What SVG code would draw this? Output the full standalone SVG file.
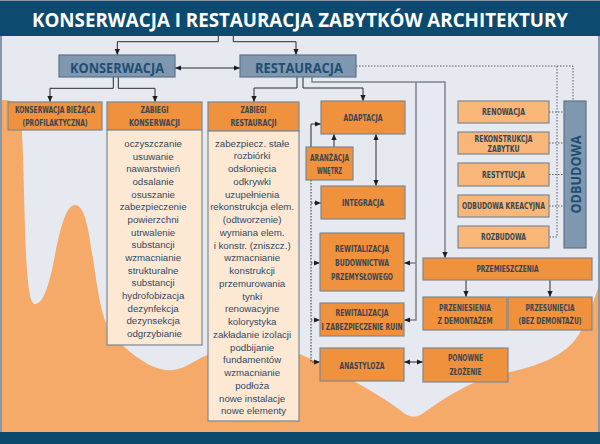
<svg xmlns="http://www.w3.org/2000/svg" width="600" height="444" viewBox="0 0 600 444">
<defs>
<style>
.ob{fill:#ef913d;stroke:#7e8890;stroke-width:1.2}
.lb{fill:#f8b679;stroke:#7e8890;stroke-width:1.2}
.pb{fill:#fde8d4;stroke:#7e8890;stroke-width:1.2}
.bb{fill:#8097b0;stroke:#5f7389;stroke-width:1.2}
.t{font-family:"Liberation Sans Narrow","DejaVu Sans Condensed","Liberation Sans",Arial,sans-serif;font-weight:700;font-size:8.6px;fill:#3a4652;text-anchor:middle}
.bt{font-family:"Open Sans","Liberation Sans",Arial,sans-serif;font-weight:700;font-size:14px;fill:#1d4e73;text-anchor:middle}
.li{font-family:"Liberation Sans",Arial,sans-serif;font-size:9.7px;fill:#2f4a62;text-anchor:middle}
.c{fill:none;stroke:#2a2a2a;stroke-width:1}
.g{fill:none;stroke:#7c848d;stroke-width:1.5}
.d{fill:none;stroke:#2a2a2a;stroke-width:1;stroke-dasharray:1.5 1.5}
.dg{fill:none;stroke:#595f66;stroke-width:1;stroke-dasharray:1.5 1.5}
</style>
<marker id="ah" viewBox="0 0 6 6" refX="6" refY="3" markerWidth="6" markerHeight="6" markerUnits="userSpaceOnUse" orient="auto-start-reverse">
<path d="M0,0.4 L6,3 L0,5.6 z" fill="#1e1e1e"/>
</marker>
</defs>

<rect x="0" y="0" width="600" height="444" fill="#8797a7"/>
<rect x="2" y="36" width="596" height="396" fill="#e6e9ef"/>
<path d="M2,100 C12,99 19,104 21,118 C24,150 24,230 27,270 C29,295 31,305 36,304 C43,302 47,290 52,270 C58,240 64,205 75,205 C86,205 89,235 94,265 C99,300 103,325 115,338 C135,358 155,372 173,370 C190,368 198,356 212,354 L300,354 C330,368 370,388 400,410 C408,417 414,419 422,414 C445,398 470,380 505,373 C535,367 560,358 575,340 C586,326 592,305 598,288 L598,432 L2,432 Z" fill="#f5aa6a"/>
<rect x="0" y="1" width="600" height="35" fill="#0d4a6f"/>
<rect x="0" y="432" width="600" height="12" fill="#0c4a6d"/>

<g id="title">
<text x="300" y="27" font-family="'Open Sans','Liberation Sans',Arial,sans-serif" font-weight="700" font-size="19" fill="#ffffff" text-anchor="middle" textLength="536" lengthAdjust="spacingAndGlyphs">KONSERWACJA I RESTAURACJA ZABYTKÓW ARCHITEKTURY</text>
</g>

<g id="connectors">
<path class="c" d="M218.3,36 V41.7 H117.3 V55" marker-end="url(#ah)"/>
<path class="c" d="M233.3,36 V41.7 H296 V55" marker-end="url(#ah)"/>
<path class="c" d="M175,68 H240" marker-start="url(#ah)" marker-end="url(#ah)"/>
<path class="c" d="M113.3,77 V88.3 H50 V102" marker-end="url(#ah)"/>
<path class="c" d="M118.3,77 V88.3 H155 V102" marker-end="url(#ah)"/>
<path class="c" d="M297,77 V88 H254 V102" marker-end="url(#ah)"/>
<path class="c" d="M303,77 V88 H363 V101" marker-end="url(#ah)"/>
<path class="c" d="M311,147 V124 H321" marker-end="url(#ah)"/>
<path class="c" d="M334,147 V134" marker-end="url(#ah)"/>
<path class="c" d="M376,134 V186" marker-start="url(#ah)" marker-end="url(#ah)"/>
<path class="c" d="M404,362 H423" marker-start="url(#ah)" marker-end="url(#ah)"/>
<path class="g" d="M312,77 V82 H445 V258" marker-end="url(#ah)"/>
<path class="g" d="M416,82 V320 H404" marker-end="url(#ah)"/>
<path class="g" d="M416,263 H404" marker-end="url(#ah)"/>
<path class="c" d="M466,280 V297" marker-end="url(#ah)"/>
<path class="c" d="M550,280 V297" marker-end="url(#ah)"/>
<path class="d" d="M311,180 V362 H320" marker-end="url(#ah)"/>
<path class="d" d="M311,203 H321" marker-end="url(#ah)"/>
<path class="d" d="M311,263 H320" marker-end="url(#ah)"/>
<path class="d" d="M311,320 H320" marker-end="url(#ah)"/>
<path class="dg" d="M356,66 H573 V101"/>
<path class="dg" d="M557,66 V237 H549"/>
<path class="dg" d="M549,112 H564 M549,143 H564 M549,174.5 H564 M549,206 H564"/>
</g>

<g id="konserwacja">
<rect class="bb" x="59" y="55" width="116" height="22"/>
<text class="bt" x="117" y="72.5" textLength="94" lengthAdjust="spacingAndGlyphs">KONSERWACJA</text>
</g>
<g id="restauracja">
<rect class="bb" x="240" y="55" width="116" height="22"/>
<text class="bt" x="299" y="72.5" textLength="88" lengthAdjust="spacingAndGlyphs">RESTAURACJA</text>
</g>

<g id="konserwacja-biezaca">
<rect class="ob" x="8" y="102" width="94" height="28"/>
<text class="t" x="55" y="113" textLength="80" lengthAdjust="spacingAndGlyphs">KONSERWACJA BIEŻĄCA</text>
<text class="t" x="55" y="126" textLength="65" lengthAdjust="spacingAndGlyphs">(PROFILAKTYCZNA)</text>
</g>

<g id="zabiegi-konserwacji">
<rect class="ob" x="107" y="102" width="95" height="28"/>
<text class="t" x="154.5" y="113" textLength="28" lengthAdjust="spacingAndGlyphs">ZABIEGI</text>
<text class="t" x="154.5" y="126" textLength="51" lengthAdjust="spacingAndGlyphs">KONSERWACJI</text>
<rect class="pb" x="107" y="130" width="95" height="215"/>
<text class="li" x="154.5" y="147">
<tspan x="154.5" dy="0">oczyszczanie</tspan>
<tspan x="154.5" dy="12.67">usuwanie</tspan>
<tspan x="154.5" dy="12.67">nawarstwień</tspan>
<tspan x="154.5" dy="12.67">odsalanie</tspan>
<tspan x="154.5" dy="12.67">osuszanie</tspan>
<tspan x="154.5" dy="12.67">zabezpieczenie</tspan>
<tspan x="154.5" dy="12.67">powierzchni</tspan>
<tspan x="154.5" dy="12.67">utrwalenie</tspan>
<tspan x="154.5" dy="12.67">substancji</tspan>
<tspan x="154.5" dy="12.67">wzmacnianie</tspan>
<tspan x="154.5" dy="12.67">strukturalne</tspan>
<tspan x="154.5" dy="12.67">substancji</tspan>
<tspan x="154.5" dy="12.67">hydrofobizacja</tspan>
<tspan x="154.5" dy="12.67">dezynfekcja</tspan>
<tspan x="154.5" dy="12.67">dezynsekcja</tspan>
<tspan x="154.5" dy="12.67">odgrzybianie</tspan>
</text>
</g>

<g id="zabiegi-restauracji">
<rect class="ob" x="208" y="102" width="91" height="29"/>
<text class="t" x="253.5" y="113" textLength="26" lengthAdjust="spacingAndGlyphs">ZABIEGI</text>
<text class="t" x="253.5" y="126" textLength="46" lengthAdjust="spacingAndGlyphs">RESTAURACJI</text>
<rect class="pb" x="208" y="131" width="91" height="290"/>
<text class="li" x="253.5" y="146.5">
<tspan x="253.5" dy="0">zabezpiecz. stałe</tspan>
<tspan x="253.5" dy="12.76">rozbiórki</tspan>
<tspan x="253.5" dy="12.76">odsłonięcia</tspan>
<tspan x="253.5" dy="12.76">odkrywki</tspan>
<tspan x="253.5" dy="12.76">uzupełnienia</tspan>
<tspan x="253.5" dy="12.76">rekonstrukcja elem.</tspan>
<tspan x="253.5" dy="12.76">(odtworzenie)</tspan>
<tspan x="253.5" dy="12.76">wymiana elem.</tspan>
<tspan x="253.5" dy="12.76">i konstr. (zniszcz.)</tspan>
<tspan x="253.5" dy="12.76">wzmacnianie</tspan>
<tspan x="253.5" dy="12.76">konstrukcji</tspan>
<tspan x="253.5" dy="12.76">przemurowania</tspan>
<tspan x="253.5" dy="12.76">tynki</tspan>
<tspan x="253.5" dy="12.76">renowacyjne</tspan>
<tspan x="253.5" dy="12.76">kolorystyka</tspan>
<tspan x="253.5" dy="12.76">zakładanie izolacji</tspan>
<tspan x="253.5" dy="12.76">podbijanie</tspan>
<tspan x="253.5" dy="12.76">fundamentów</tspan>
<tspan x="253.5" dy="12.76">wzmacnianie</tspan>
<tspan x="253.5" dy="12.76">podłoża</tspan>
<tspan x="253.5" dy="12.76">nowe instalacje</tspan>
<tspan x="253.5" dy="12.76">nowe elementy</tspan>
</text>
</g>

<g id="adaptacja">
<rect class="ob" x="321" y="101" width="84" height="33"/>
<text class="t" x="363" y="120.5" textLength="39" lengthAdjust="spacingAndGlyphs">ADAPTACJA</text>
</g>
<g id="aranzacja">
<rect class="ob" x="306" y="147" width="47" height="33"/>
<text class="t" x="329.5" y="161" textLength="39" lengthAdjust="spacingAndGlyphs">ARANŻACJA</text>
<text class="t" x="329.5" y="174" textLength="25" lengthAdjust="spacingAndGlyphs">WNĘTRZ</text>
</g>
<g id="integracja">
<rect class="ob" x="321" y="186" width="84" height="33"/>
<text class="t" x="363" y="205.5" textLength="42" lengthAdjust="spacingAndGlyphs">INTEGRACJA</text>
</g>
<g id="rewitalizacja-budownictwa">
<rect class="ob" x="320" y="233" width="84" height="58"/>
<text class="t" x="362" y="252" textLength="54" lengthAdjust="spacingAndGlyphs">REWITALIZACJA</text>
<text class="t" x="362" y="266" textLength="54" lengthAdjust="spacingAndGlyphs">BUDOWNICTWA</text>
<text class="t" x="362" y="279.5" textLength="62" lengthAdjust="spacingAndGlyphs">PRZEMYSŁOWEGO</text>
</g>
<g id="rewitalizacja-ruin">
<rect class="ob" x="320" y="303" width="84" height="33"/>
<text class="t" x="362" y="316" textLength="53" lengthAdjust="spacingAndGlyphs">REWITALIZACJA</text>
<text class="t" x="362" y="330" textLength="81" lengthAdjust="spacingAndGlyphs">I ZABEZPIECZENIE RUIN</text>
</g>
<g id="anastyloza">
<rect class="ob" x="320" y="348" width="84" height="33"/>
<text class="t" x="362" y="368.5" textLength="45" lengthAdjust="spacingAndGlyphs">ANASTYLOZA</text>
</g>
<g id="ponowne-zlozenie">
<rect class="ob" x="423" y="348" width="85" height="34"/>
<text class="t" x="465.5" y="361" textLength="35" lengthAdjust="spacingAndGlyphs">PONOWNE</text>
<text class="t" x="465.5" y="375" textLength="32" lengthAdjust="spacingAndGlyphs">ZŁOŻENIE</text>
</g>
<g id="przemieszczenia">
<rect class="ob" x="423" y="258" width="169" height="22"/>
<text class="t" x="507.5" y="272" textLength="62" lengthAdjust="spacingAndGlyphs">PRZEMIESZCZENIA</text>
</g>
<g id="przeniesienia">
<rect class="ob" x="423" y="297" width="84" height="33"/>
<text class="t" x="465" y="311" textLength="52" lengthAdjust="spacingAndGlyphs">PRZENIESIENIA</text>
<text class="t" x="465" y="323.5" textLength="55" lengthAdjust="spacingAndGlyphs">Z DEMONTAŻEM</text>
</g>
<g id="przesuniecia">
<rect class="ob" x="508" y="297" width="84" height="33"/>
<text class="t" x="550" y="311" textLength="49" lengthAdjust="spacingAndGlyphs">PRZESUNIĘCIA</text>
<text class="t" x="550" y="323.5" textLength="63" lengthAdjust="spacingAndGlyphs">(BEZ DEMONTAŻU)</text>
</g>

<g id="renowacja">
<rect class="lb" x="458" y="101" width="91" height="22"/>
<text class="t" x="503.5" y="115" textLength="43" lengthAdjust="spacingAndGlyphs">RENOWACJA</text>
</g>
<g id="rekonstrukcja">
<rect class="lb" x="458" y="132" width="91" height="22"/>
<text class="t" x="503.5" y="142" textLength="58" lengthAdjust="spacingAndGlyphs">REKONSTRUKCJA</text>
<text class="t" x="503.5" y="152" textLength="32" lengthAdjust="spacingAndGlyphs">ZABYTKU</text>
</g>
<g id="restytucja">
<rect class="lb" x="458" y="163" width="91" height="23"/>
<text class="t" x="503.5" y="177.5" textLength="43" lengthAdjust="spacingAndGlyphs">RESTYTUCJA</text>
</g>
<g id="odbudowa-kreacyjna">
<rect class="lb" x="458" y="195" width="91" height="22"/>
<text class="t" x="503.5" y="209" textLength="83" lengthAdjust="spacingAndGlyphs">ODBUDOWA KREACYJNA</text>
</g>
<g id="rozbudowa">
<rect class="lb" x="458" y="226" width="91" height="22"/>
<text class="t" x="503.5" y="240" textLength="45" lengthAdjust="spacingAndGlyphs">ROZBUDOWA</text>
</g>
<g id="odbudowa">
<rect class="bb" x="564" y="101" width="22" height="147"/>
<text class="bt" x="0" y="0" font-size="15" transform="translate(580.5,174.5) rotate(-90)" textLength="78" lengthAdjust="spacingAndGlyphs">ODBUDOWA</text>
</g>
</svg>
